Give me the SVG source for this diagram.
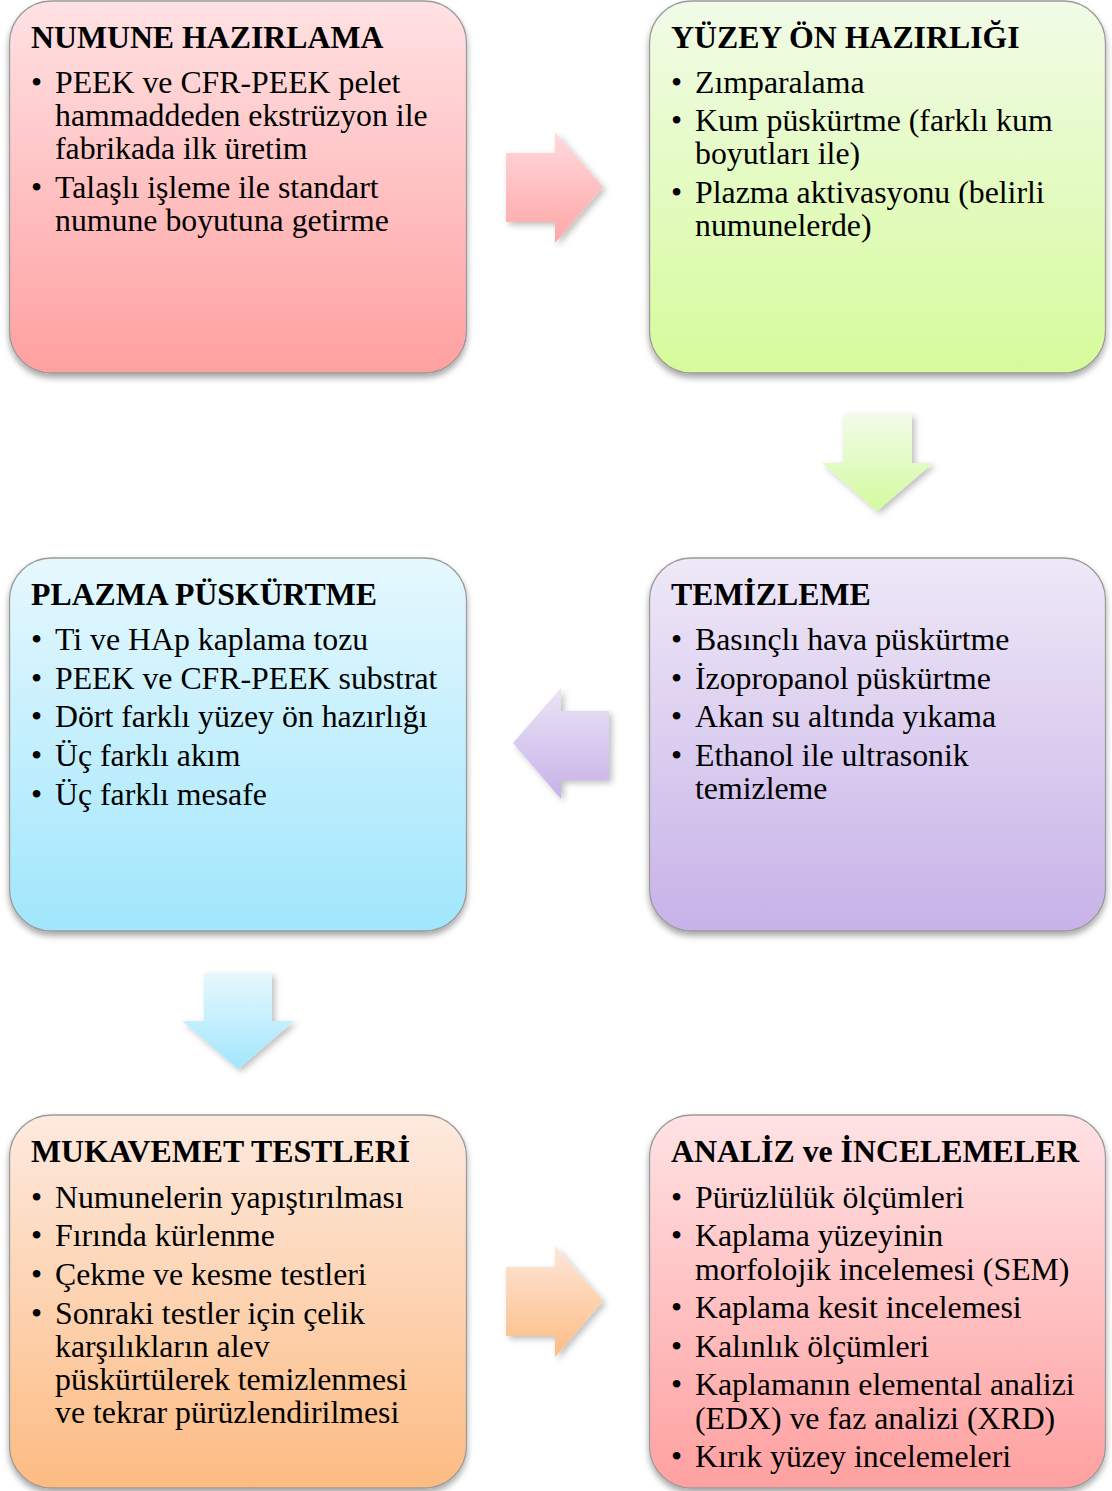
<svg xmlns="http://www.w3.org/2000/svg" width="1112" height="1491" viewBox="0 0 1112 1491">
<style>
.t{font-family:"Liberation Serif","Times New Roman",serif;font-size:31.8px;font-weight:bold;fill:#000}
.b{font-family:"Liberation Serif","Times New Roman",serif;font-size:31.8px;fill:#000}
.box{stroke:#9a9a9a;stroke-width:1.3;filter:url(#sh)}
.arr{filter:url(#ash)}
</style>
<defs>
<filter id="sh" x="-10%" y="-10%" width="120%" height="125%">
<feDropShadow dx="0" dy="4" stdDeviation="3" flood-color="#000" flood-opacity="0.35"/>
</filter>
<filter id="ash" x="-20%" y="-20%" width="150%" height="150%">
<feDropShadow dx="3" dy="3" stdDeviation="3" flood-color="#000" flood-opacity="0.25"/>
</filter>
<linearGradient id="gPink" x1="0" y1="0" x2="0" y2="1"><stop offset="0" stop-color="#ffe2e4"/><stop offset="1" stop-color="#ffa0a0"/></linearGradient>
<linearGradient id="gGreen" x1="0" y1="0" x2="0" y2="1"><stop offset="0" stop-color="#f1fbe8"/><stop offset="1" stop-color="#d6fb9a"/></linearGradient>
<linearGradient id="gBlue" x1="0" y1="0" x2="0" y2="1"><stop offset="0" stop-color="#e6f8fe"/><stop offset="1" stop-color="#a0e6fc"/></linearGradient>
<linearGradient id="gLav" x1="0" y1="0" x2="0" y2="1"><stop offset="0" stop-color="#eee8f7"/><stop offset="1" stop-color="#c8b2e8"/></linearGradient>
<linearGradient id="gPeach" x1="0" y1="0" x2="0" y2="1"><stop offset="0" stop-color="#fdeadf"/><stop offset="1" stop-color="#fdbb82"/></linearGradient>
<linearGradient id="aPink" x1="0" y1="0" x2="0" y2="1"><stop offset="0" stop-color="#ffdadd"/><stop offset="1" stop-color="#ffa6a6"/></linearGradient>
<linearGradient id="aGreen" x1="0" y1="0" x2="0" y2="1"><stop offset="0" stop-color="#f2fbea"/><stop offset="1" stop-color="#d2fb9c"/></linearGradient>
<linearGradient id="aLav" x1="0" y1="0" x2="0" y2="1"><stop offset="0" stop-color="#ebe4f6"/><stop offset="1" stop-color="#c6b2e8"/></linearGradient>
<linearGradient id="aBlue" x1="0" y1="0" x2="0" y2="1"><stop offset="0" stop-color="#e6f8fe"/><stop offset="1" stop-color="#a2e6fc"/></linearGradient>
<linearGradient id="aPeach" x1="0" y1="0" x2="0" y2="1"><stop offset="0" stop-color="#fde6d8"/><stop offset="1" stop-color="#fdbc84"/></linearGradient>
</defs>
<rect width="1112" height="1491" fill="#fff"/>

<g id="connectors">
<polygon class="arr" fill="url(#aPink)" points="506,153 555,153 555,132 603,187 555,243 555,222 506,222"/>
<polygon class="arr" fill="url(#aGreen)" points="843,414 912,414 912,463 933,463 877,511 822,463 843,463"/>
<polygon class="arr" fill="url(#aLav)" points="609,711 561,711 561,688 513,743 561,799 561,780 609,780"/>
<polygon class="arr" fill="url(#aBlue)" points="204,973 272,973 272,1021 294,1021 238,1069 182,1021 204,1021"/>
<polygon class="arr" fill="url(#aPeach)" points="506,1267 555,1267 555,1246 603,1301 555,1357 555,1336 506,1336"/>
</g>

<g id="n1">
<rect class="box" x="9.5" y="1" width="457" height="372" rx="42" fill="url(#gPink)"/>
<text class="t" x="31" y="48">NUMUNE HAZIRLAMA</text>
<text class="b" x="31" y="93">•</text><text class="b" x="55" y="93">PEEK ve CFR-PEEK pelet</text>
<text class="b" x="55" y="126">hammaddeden ekstrüzyon ile</text>
<text class="b" x="55" y="159">fabrikada ilk üretim</text>
<text class="b" x="31" y="198">•</text><text class="b" x="55" y="198">Talaşlı işleme ile standart</text>
<text class="b" x="55" y="231">numune boyutuna getirme</text>
</g>

<g id="n2">
<rect class="box" x="649.5" y="1" width="456" height="372" rx="42" fill="url(#gGreen)"/>
<text class="t" x="671" y="48">YÜZEY ÖN HAZIRLIĞI</text>
<text class="b" x="671" y="93">•</text><text class="b" x="695" y="93">Zımparalama</text>
<text class="b" x="671" y="131">•</text><text class="b" x="695" y="131">Kum püskürtme (farklı kum</text>
<text class="b" x="695" y="164">boyutları ile)</text>
<text class="b" x="671" y="203">•</text><text class="b" x="695" y="203">Plazma aktivasyonu (belirli</text>
<text class="b" x="695" y="236">numunelerde)</text>
</g>

<g id="n3">
<rect class="box" x="9.5" y="558" width="457" height="373" rx="42" fill="url(#gBlue)"/>
<text class="t" x="31" y="605">PLAZMA PÜSKÜRTME</text>
<text class="b" x="31" y="650">•</text><text class="b" x="55" y="650">Ti ve HAp kaplama tozu</text>
<text class="b" x="31" y="689">•</text><text class="b" x="55" y="689">PEEK ve CFR-PEEK substrat</text>
<text class="b" x="31" y="727">•</text><text class="b" x="55" y="727">Dört farklı yüzey ön hazırlığı</text>
<text class="b" x="31" y="766">•</text><text class="b" x="55" y="766">Üç farklı akım</text>
<text class="b" x="31" y="805">•</text><text class="b" x="55" y="805">Üç farklı mesafe</text>
</g>

<g id="n4">
<rect class="box" x="649.5" y="558" width="456" height="373" rx="42" fill="url(#gLav)"/>
<text class="t" x="671" y="605">TEMİZLEME</text>
<text class="b" x="671" y="650">•</text><text class="b" x="695" y="650">Basınçlı hava püskürtme</text>
<text class="b" x="671" y="689">•</text><text class="b" x="695" y="689">İzopropanol püskürtme</text>
<text class="b" x="671" y="727">•</text><text class="b" x="695" y="727">Akan su altında yıkama</text>
<text class="b" x="671" y="766">•</text><text class="b" x="695" y="766">Ethanol ile ultrasonik</text>
<text class="b" x="695" y="799">temizleme</text>
</g>

<g id="n5">
<rect class="box" x="9.5" y="1115" width="457" height="373" rx="42" fill="url(#gPeach)"/>
<text class="t" x="31" y="1162">MUKAVEMET TESTLERİ</text>
<text class="b" x="31" y="1208">•</text><text class="b" x="55" y="1208">Numunelerin yapıştırılması</text>
<text class="b" x="31" y="1246">•</text><text class="b" x="55" y="1246">Fırında kürlenme</text>
<text class="b" x="31" y="1285">•</text><text class="b" x="55" y="1285">Çekme ve kesme testleri</text>
<text class="b" x="31" y="1324">•</text><text class="b" x="55" y="1324">Sonraki testler için çelik</text>
<text class="b" x="55" y="1357">karşılıkların alev</text>
<text class="b" x="55" y="1390">püskürtülerek temizlenmesi</text>
<text class="b" x="55" y="1423">ve tekrar pürüzlendirilmesi</text>
</g>

<g id="n6">
<rect class="box" x="649.5" y="1115" width="456" height="373" rx="42" fill="url(#gPink)"/>
<text class="t" x="671" y="1162">ANALİZ ve İNCELEMELER</text>
<text class="b" x="671" y="1208">•</text><text class="b" x="695" y="1208">Pürüzlülük ölçümleri</text>
<text class="b" x="671" y="1246">•</text><text class="b" x="695" y="1246">Kaplama yüzeyinin</text>
<text class="b" x="695" y="1280">morfolojik incelemesi (SEM)</text>
<text class="b" x="671" y="1318">•</text><text class="b" x="695" y="1318">Kaplama kesit incelemesi</text>
<text class="b" x="671" y="1357">•</text><text class="b" x="695" y="1357">Kalınlık ölçümleri</text>
<text class="b" x="671" y="1395">•</text><text class="b" x="695" y="1395">Kaplamanın elemental analizi</text>
<text class="b" x="695" y="1429">(EDX) ve faz analizi (XRD)</text>
<text class="b" x="671" y="1467">•</text><text class="b" x="695" y="1467">Kırık yüzey incelemeleri</text>
</g>
</svg>
